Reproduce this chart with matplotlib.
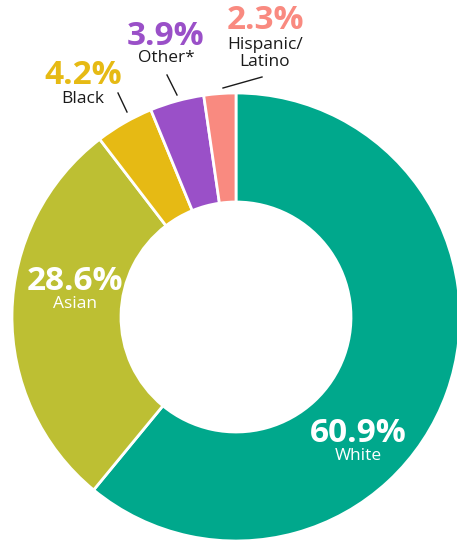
import matplotlib.pyplot as plt

# --- data ---
groups = ["White", "Asian", "Black", "Other*", "Hispanic/\nLatino"]
shares = [60.9, 28.6, 4.2, 3.9, 2.3]
colors = ["#00A88C", "#BDBF33", "#E6BA14", "#9A50C8", "#F98A80"]

W, H = 457, 543
fig = plt.figure(figsize=(W / 100, H / 100), dpi=100)
ax = fig.add_axes([0, 0, 1, 1])

cx, cy, r_out = 236, H - 317, 224
ax.pie(shares, colors=colors, startangle=90, counterclock=False,
       center=(cx, cy), radius=r_out, frame=True,
       wedgeprops=dict(width=r_out - 115, edgecolor="white", linewidth=2))
ax.set_xlim(0, W)
ax.set_ylim(0, H)
ax.set_aspect("equal")
ax.axis("off")

fam = ["Open Sans", "DejaVu Sans"]

# label anchors in pixel coords: x centre, baseline of % and of first name line
pct_x = [358, 75, 83, 166, 265]
pct_base = [442, 290, 84, 45, 29]
name_base = [460, 308, 103, 62, 49]
inside = [True, True, False, False, False]
for i, (g, s) in enumerate(zip(groups, shares)):
    x = pct_x[i]
    pc = "white" if inside[i] else colors[i]
    lc = "white" if inside[i] else "#1a1a1a"
    ax.text(x, H - pct_base[i], f"{s}%", ha="center", va="baseline", color=pc,
            fontsize=24, fontweight="bold", family=fam)
    for k, line in enumerate(g.split("\n")):
        ax.text(x, H - name_base[i] - 17 * k, line, ha="center", va="baseline",
                color=lc, fontsize=12.5, family=fam)

# leader lines
leaders = [((118, 93), (127, 112)), ((167, 75), (177, 95)), ((223, 88), (262, 77))]
for (x0, y0), (x1, y1) in leaders:
    ax.plot([x0, x1], [H - y0, H - y1], color="#1a1a1a", lw=1)

fig.savefig("out.png", dpi=100)
